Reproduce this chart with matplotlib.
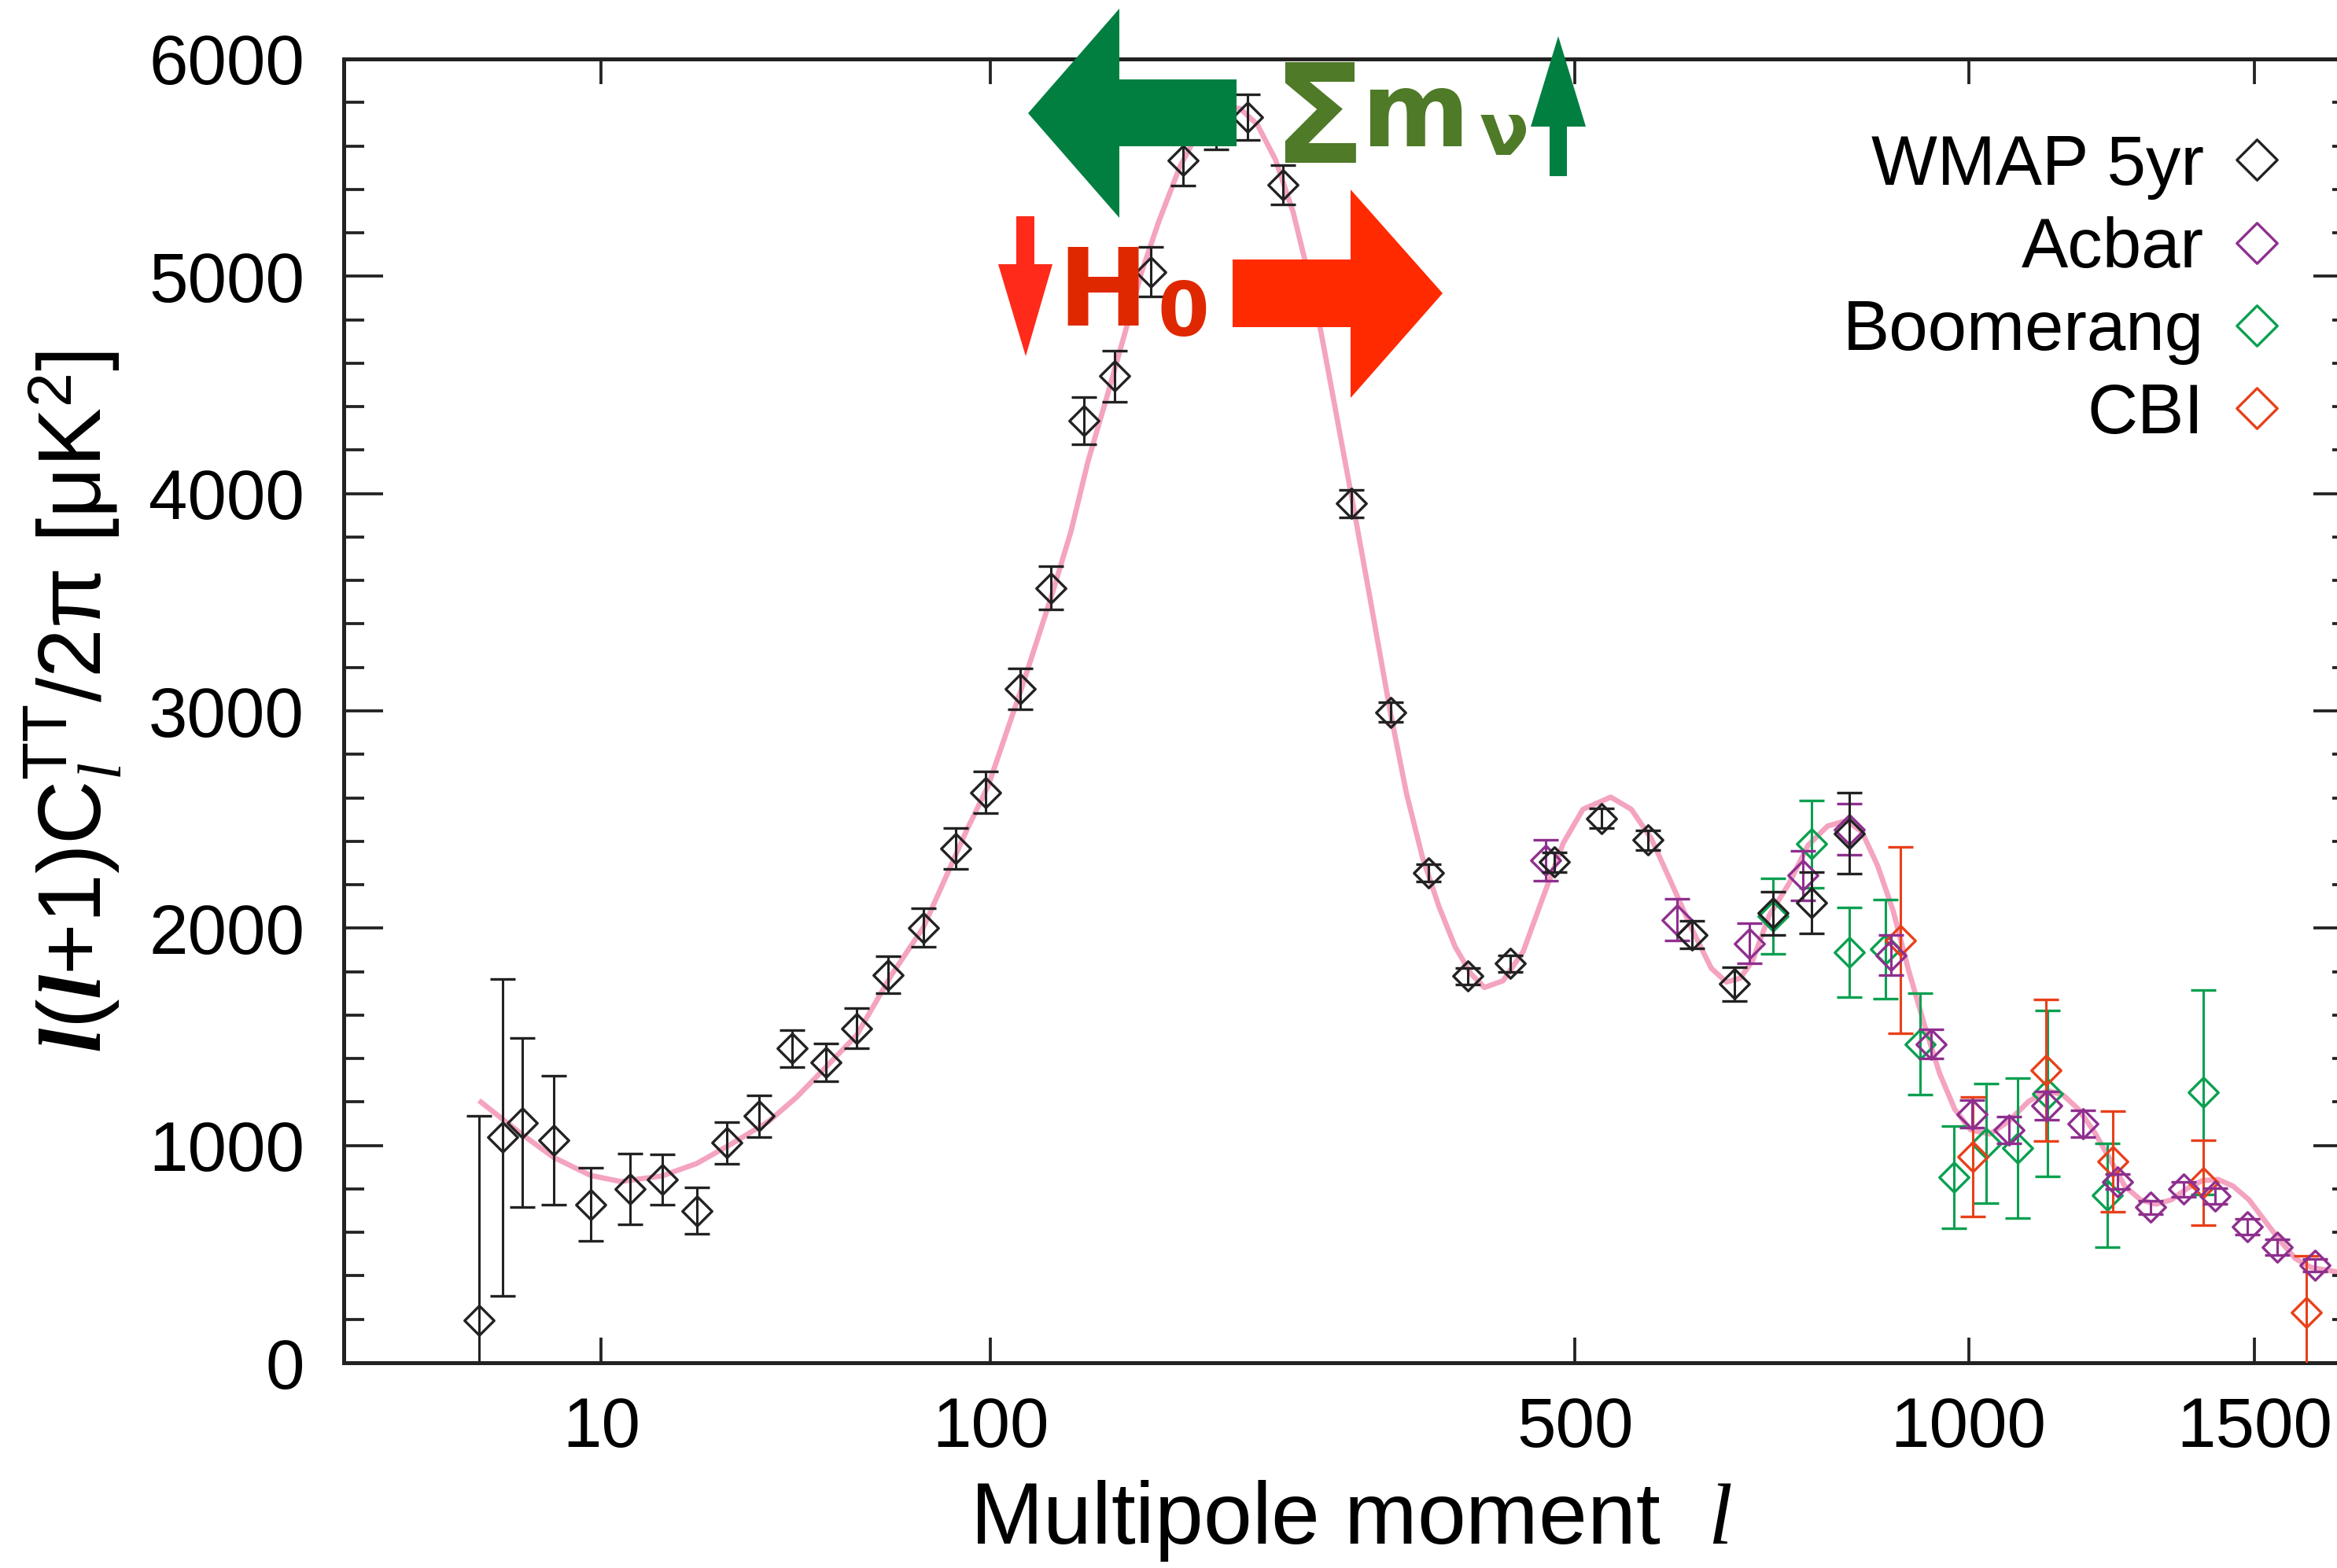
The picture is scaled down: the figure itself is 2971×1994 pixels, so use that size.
import numpy as np
import matplotlib
matplotlib.use('Agg')
import matplotlib.pyplot as plt
from matplotlib.lines import Line2D
from matplotlib.patches import Polygon
from matplotlib.path import Path
from matplotlib.ticker import MultipleLocator, FixedLocator, NullLocator

plt.rcParams['font.family'] = ['Liberation Sans', 'DejaVu Sans']
plt.rcParams['mathtext.fontset'] = 'custom'
plt.rcParams['mathtext.rm'] = 'Liberation Sans'
plt.rcParams['mathtext.it'] = 'Liberation Serif:italic'
plt.rcParams['mathtext.bf'] = 'Liberation Serif:italic:bold'

# WMAP 5yr binned TT spectrum
wmap_l = [2, 3, 4, 6, 9, 13, 17, 22, 27, 33, 40, 48, 56, 65, 76, 87, 98,
          112, 125, 140, 155, 174, 192, 211, 231, 254, 303, 333, 364, 398,
          437, 479, 527, 577, 627, 678, 726, 776, 827]
wmap_d = [197, 1037, 1105, 1024, 729, 800, 843, 699, 1012, 1135, 1447, 1382,
          1539, 1785, 2003, 2365, 2625, 3101, 3566, 4335, 4540, 5020, 5532,
          5680, 5731, 5420, 3954, 2994, 2256, 1779, 1837, 2304, 2506, 2406,
          1970, 1743, 2069, 2117, 2437]
wmap_e = [940, 729, 390, 298, 167, 162, 116, 107, 97, 96, 85, 88, 92, 85,
          88, 94, 95, 95, 100, 110, 117, 114, 116, 95, 105, 90, 62, 45, 40,
          38, 38, 45, 47, 45, 62, 77, 100, 140, 185]

acbar_l = [471, 610, 696, 764, 827, 885, 943, 1005, 1063, 1125, 1185, 1245,
           1304, 1364, 1423, 1485, 1544, 1621]
acbar_d = [2312, 2038, 1930, 2242, 2454, 1876, 1467, 1145, 1072, 1182, 1099,
           833, 715, 798, 767, 626, 532, 449]
acbar_e = [95, 96, 93, 113, 118, 91, 68, 62, 62, 65, 62, 35, 30, 35, 35, 35,
           35, 30]

boom_l = [726, 776, 827, 877, 927, 978, 1027, 1077, 1126, 1228, 1401]
boom_d = [2055, 2387, 1889, 1903, 1467, 854, 1010, 989, 1238, 771, 1245]
boom_e = [173, 200, 205, 228, 234, 235, 275, 322, 382, 240, 472]

cbi_l = [899, 1007, 1123, 1237, 1401, 1603]
cbi_d = [1945, 948, 1347, 927, 829, 231]
cbi_e = [428, 275, 325, 232, 195, 260]

# best fit model curve
theory_l = [2, 3, 4, 6, 9, 12, 17, 22, 28, 35, 41, 48, 56, 66, 76, 84, 91, 99,
            112, 125, 134, 142, 151, 160, 169, 178, 190, 202, 215, 226, 237,
            249, 261, 270, 280, 290, 304, 317, 333, 346, 359, 373, 387, 401,
            413, 430, 449, 468, 488, 508, 537, 559, 581, 604, 627, 650, 668,
            685, 700, 721, 746, 771, 797, 823, 844, 866, 888, 910, 933, 956,
            979, 1003, 1033, 1064, 1095, 1126, 1152, 1178, 1205, 1232, 1258,
            1286, 1314, 1342, 1371, 1399, 1429, 1458, 1489, 1519, 1550, 1581,
            1613, 1667, 1700]
theory_d = [1207, 1120, 1050, 945, 862, 834, 860, 917, 1010, 1111, 1222, 1361,
            1508, 1785, 2003, 2247, 2450, 2653, 3090, 3521, 3825, 4148, 4439,
            4730, 5020, 5247, 5505, 5683, 5780, 5772, 5699, 5537, 5295, 5052,
            4762, 4422, 3954, 3521, 2994, 2620, 2329, 2100, 1914, 1789, 1727,
            1758, 1893, 2142, 2391, 2547, 2603, 2547, 2412, 2204, 1997, 1815,
            1752, 1770, 1850, 2059, 2204, 2381, 2470, 2495, 2443, 2287, 2080,
            1810, 1560, 1332, 1166, 1072, 1052, 1114, 1203, 1253, 1232, 1166,
            1062, 937, 813, 750, 730, 750, 802, 838, 844, 813, 750, 657, 563,
            480, 439, 418, 412]

xticks = [10, 100, 500, 1000, 1500]
series = [('WMAP 5yr', '#222222'), ('Acbar', '#8e2f8e'),
          ('Boomerang', '#0aa050'), ('CBI', '#e8401a')]

W, H = 2971, 1994
fig = plt.figure(figsize=(W / 100, H / 100), dpi=100)
ax = fig.add_axes([437 / W, (H - 1733) / H, (2991 - 437) / W, (1733 - 75) / H])


def fwd(x):
    x = np.asarray(x, dtype=float)
    return np.sign(x) * np.abs(x) ** 0.4


def inv(y):
    y = np.asarray(y, dtype=float)
    return np.sign(y) * np.abs(y) ** 2.5


ax.set_xscale('function', functions=(fwd, inv))
ax.set_xlim(0, 1700)
ax.set_ylim(0, 6000)

diamond = Path([(0, 1), (1, 0), (0, -1), (-1, 0), (0, 1)],
               [Path.MOVETO, Path.LINETO, Path.LINETO, Path.LINETO, Path.CLOSEPOLY])

ax.plot(theory_l, theory_d, color='#f4a3c1', lw=4.8, zorder=1, solid_capstyle='butt')

data = [(boom_l, boom_d, boom_e, series[2][1]),
        (cbi_l, cbi_d, cbi_e, series[3][1]),
        (acbar_l, acbar_d, acbar_e, series[1][1]),
        (wmap_l, wmap_d, wmap_e, series[0][1])]
for i, (x, y, e, c) in enumerate(data):
    ax.errorbar(x, y, yerr=e, ls='none', marker=diamond, ms=27, mfc='none',
                mec=c, mew=2.4, ecolor=c, elinewidth=2.2, capsize=11.5,
                capthick=2.8, zorder=2 + i)

ax.xaxis.set_major_locator(FixedLocator(xticks))
ax.xaxis.set_minor_locator(NullLocator())
ax.set_xticklabels([str(t) for t in xticks])
ax.yaxis.set_major_locator(MultipleLocator(1000))
ax.yaxis.set_minor_locator(MultipleLocator(200))
ax.tick_params(axis='both', which='both', direction='in', top=True, right=True,
               colors='#222222', labelcolor='black', labelsize=64)
ax.tick_params(axis='x', which='major', length=23, width=2.7, pad=30)
ax.tick_params(axis='y', which='major', length=36, width=2.7, pad=36)
ax.tick_params(axis='y', which='minor', length=19, width=2.7)
for s in ax.spines.values():
    s.set_linewidth(3.6)
    s.set_color('#222222')

ax.set_xlabel(r'Multipole moment  $\mathit{l}$', fontsize=80)
ax.xaxis.set_label_coords(0.5016, -0.0885)
ax.set_ylabel(r'$\mathbf{l}$($\mathbf{l}$+1)$\mathrm{C}_{\mathit{l}}^{\mathrm{TT}}$/2π [μK$^2$]',
              fontsize=81)
ax.yaxis.set_label_coords(-0.1096, 0.507)

handles = [Line2D([], [], ls='none', marker=diamond, ms=37, mfc='none', mec=c, mew=2.4)
           for _, c in series]
ax.legend(handles, [n for n, _ in series], loc='upper right',
          bbox_to_anchor=(0.9625, 0.943), markerfirst=False, frameon=False,
          fontsize=64, handlelength=0.6, handletextpad=0.45, labelspacing=0.24,
          borderpad=0, borderaxespad=0)


# annotation arrows, in figure pixels (y from top)
def px(pts):
    return [(x / W, 1 - y / H) for x, y in pts]


green = '#007f41'
red = '#ff2a00'
arrows = [
    ([(1307, 144), (1423, 11), (1423, 101), (1572, 101), (1572, 186),
      (1423, 186), (1423, 277)], green),
    ([(1981, 46), (2016, 161), (1992, 161), (1992, 224), (1970, 224),
      (1970, 161), (1946, 161)], green),
    ([(1292, 275), (1315, 275), (1315, 336), (1338, 336), (1304, 453),
      (1269, 336), (1292, 336)], '#ff2a1a'),
    ([(1567, 330), (1717, 330), (1717, 241), (1834, 373), (1717, 506),
      (1717, 416), (1567, 416)], red),
]
for pts, c in arrows:
    fig.add_artist(Polygon(px(pts), closed=True, transform=fig.transFigure,
                           facecolor=c, edgecolor='none', zorder=10))

bold = dict(family='DejaVu Sans', fontweight='bold', ha='left', va='baseline', zorder=11)
fig.text(1617 / W, 1 - 207 / H, 'Σ', fontsize=125, color='#4f7a28', **bold)
fig.text(1731 / W, 1 - 186 / H, 'm', fontsize=95, color='#4f7a28', **bold)
fig.text(1881 / W, 1 - 197 / H, 'ν', fontsize=67, color='#4f7a28', **bold)
fig.text(1344 / W, 1 - 414 / H, 'H', fontsize=99, color='#e02800', **bold)
fig.text(1472 / W, 1 - 427 / H, '0', fontsize=68, color='#e02800', **bold)

fig.savefig('out.png', dpi=100)
